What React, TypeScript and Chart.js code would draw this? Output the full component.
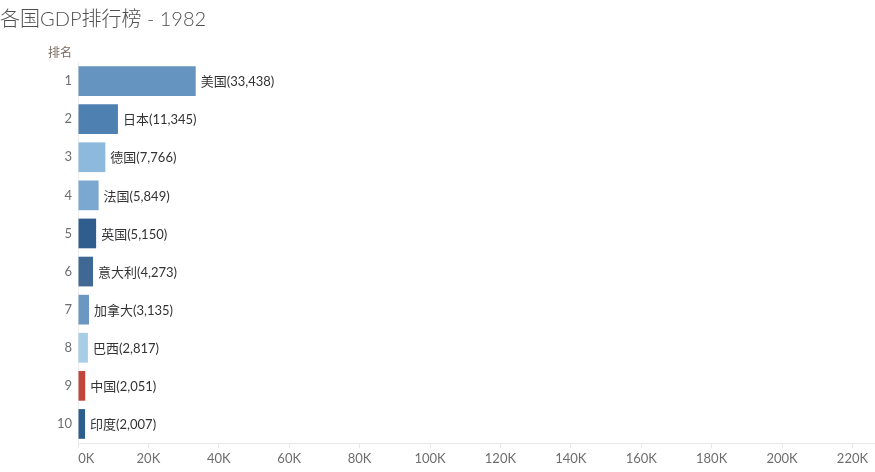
import { useEffect, useRef } from 'react';
import { Chart, registerables } from 'chart.js';

Chart.register(...registerables);

const RANKS = ['1', '2', '3', '4', '5', '6', '7', '8', '9', '10'];
const COUNTRIES = ['美国', '日本', '德国', '法国', '英国', '意大利', '加拿大', '巴西', '中国', '印度'];
const GDP = [33438, 11345, 7766, 5849, 5150, 4273, 3135, 2817, 2051, 2007];
const BAR_COLORS = [
  '#6494bf', '#4e80b2', '#8dbadc', '#7aa8d0', '#2f5e8e',
  '#3f6894', '#6b97c2', '#a8cde6', '#c0473a', '#2d5d8f',
];
const X_TICKS = [0, 20000, 40000, 60000, 80000, 100000, 120000, 140000, 160000, 180000, 200000, 220000];
const X_MAX = 226400;
const TITLE = '各国GDP排行榜 - 1982';
const RANK_HEADER = '排名';

const FONT = 'Lato, "Noto Sans CJK SC", sans-serif';

// title, rank header and value labels at bar ends
const decorations = {
  id: 'decorations',
  afterDraw(chart: Chart) {
    const { ctx, chartArea } = chart;
    ctx.save();
    ctx.fillStyle = '#505050';
    ctx.font = `300 20px ${FONT}`;
    ctx.textBaseline = 'alphabetic';
    ctx.textAlign = 'left';
    ctx.fillText(TITLE, 0, 26);

    ctx.fillStyle = '#7a6a60';
    ctx.font = `12px ${FONT}`;
    ctx.textAlign = 'right';
    ctx.fillText(RANK_HEADER, chartArea.left - 6, 57);

    ctx.fillStyle = '#333';
    ctx.font = `13px ${FONT}`;
    ctx.textAlign = 'left';
    ctx.textBaseline = 'middle';
    const meta = chart.getDatasetMeta(0);
    meta.data.forEach((bar: any, i: number) => {
      const label = `${COUNTRIES[i]}(${GDP[i].toLocaleString('en-US')})`;
      ctx.fillText(label, bar.x + 5, bar.y + 1);
    });
    ctx.restore();
  },
};

export default function App() {
  const ref = useRef<HTMLCanvasElement>(null);
  const chart = useRef<Chart | null>(null);

  useEffect(() => {
    if (!ref.current) return;
    document.body.style.margin = '0';
    const ctx = ref.current.getContext('2d')!;

    chart.current?.destroy();
    chart.current = new Chart(ctx, {
      type: 'bar',
      data: {
        labels: RANKS,
        datasets: [
          {
            data: GDP,
            backgroundColor: BAR_COLORS,
            barPercentage: 0.78,
            categoryPercentage: 1,
          },
        ],
      },
      options: {
        indexAxis: 'y',
        responsive: false,
        animation: false,
        layout: { padding: { top: 62, left: 0, right: 0, bottom: 0 } },
        plugins: {
          legend: { display: false },
          tooltip: { enabled: false },
        },
        scales: {
          x: {
            min: 0,
            max: X_MAX,
            afterBuildTicks: (s: any) => { s.ticks = X_TICKS.map((value) => ({ value })); },
            afterFit: (s: any) => { s.height = 29; },
            grid: { drawOnChartArea: false, drawTicks: true, tickLength: 5, color: '#e8e8e8' },
            border: { color: '#e8e8e8' },
            ticks: {
              maxRotation: 0,
              autoSkip: false,
              padding: 3,
              color: '#6e6e6e',
              font: { family: FONT, size: 13 },
              callback: (v: any) => (v === 0 ? '     0K' : `${v / 1000}K`),
            },
          },
          y: {
            afterFit: (s: any) => { s.width = 78; },
            grid: { display: false, drawTicks: false },
            border: { display: true, color: '#ececec' },
            ticks: {
              padding: 6,
              color: '#6e6e6e',
              font: { family: FONT, size: 13 },
            },
          },
        },
      },
      plugins: [decorations],
    });

    return () => { chart.current?.destroy(); };
  }, []);

  return <canvas ref={ref} width={875} height={472} style={{ display: 'block', width: '875px', height: '472px' }} />;
}
